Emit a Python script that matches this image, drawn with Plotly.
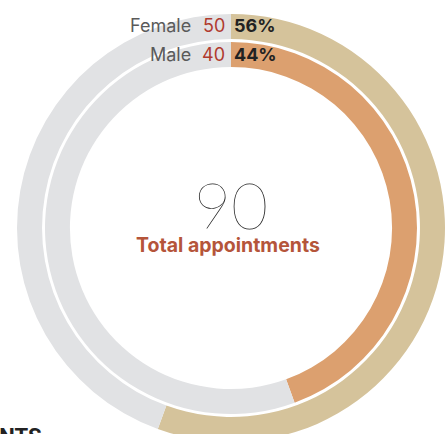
import plotly.graph_objects as go

categories = ["Female", "Male"]
counts = [50, 40]
ring_colors = ["#d5c39b", "#dca06f"]
rest_color = "#e1e2e4"
center_label = "Total appointments"
total = sum(counts)
percents = [round(c / total * 100) for c in counts]

W, H = 447, 456
cx, cy = 231, 228
outer_r = [214, 186]
holes = [0.883, 0.866]

fig = go.Figure()
for i, cat in enumerate(categories):
    r = outer_r[i]
    fig.add_trace(go.Pie(
        labels=[cat, "Other"],
        values=[counts[i], total - counts[i]],
        hole=holes[i],
        sort=False,
        direction="clockwise",
        rotation=0,
        marker=dict(colors=[ring_colors[i], rest_color], line=dict(width=0)),
        textinfo="none",
        hoverinfo="label+value",
        showlegend=False,
        domain=dict(x=[(cx - r) / W, (cx + r) / W],
                    y=[(H - cy - r) / H, (H - cy + r) / H]),
    ))

def px(x, y):
    return x / W, 1 - y / H

ann = []
row_y = [26, 55]
for i, cat in enumerate(categories):
    x, y = px(193, row_y[i])
    ann.append(dict(x=x, y=y, text=cat, showarrow=False, xanchor="right", yanchor="middle",
                    font=dict(family="Inter", size=18, color="#5a5a5a")))
    x, y = px(227, row_y[i])
    ann.append(dict(x=x, y=y, text=str(counts[i]), showarrow=False, xanchor="right", yanchor="middle",
                    font=dict(family="Inter", size=18, color="#b03a2e")))
    x, y = px(232, row_y[i])
    ann.append(dict(x=x, y=y, text=f"<b>{percents[i]}%</b>", showarrow=False, xanchor="left", yanchor="middle",
                    font=dict(family="Inter", size=18, color="#222222")))

x, y = px(231, 204)
ann.append(dict(x=x, y=y, text=str(total), showarrow=False, xanchor="center", yanchor="middle",
                font=dict(family="Lato", size=64, color="#222222", weight=200)))
x, y = px(228, 245)
ann.append(dict(x=x, y=y, text=f"<b>{center_label}</b>", showarrow=False, xanchor="center", yanchor="middle",
                font=dict(family="Inter", size=19.5, color="#b5553a")))
x, y = px(43, 422)
ann.append(dict(x=x, y=y, text="<b>APPOINTMENTS</b>", showarrow=False, xanchor="right", yanchor="top",
                font=dict(family="Roboto", size=22, color="#222222")))

fig.update_layout(width=W, height=H, margin=dict(l=0, r=0, t=0, b=0),
                  paper_bgcolor="white", plot_bgcolor="white", annotations=ann)
fig.write_html("out.html", config={"displayModeBar": False},
               post_script="document.body.style.margin='0';document.body.style.overflow='hidden';document.documentElement.style.overflow='hidden';")
